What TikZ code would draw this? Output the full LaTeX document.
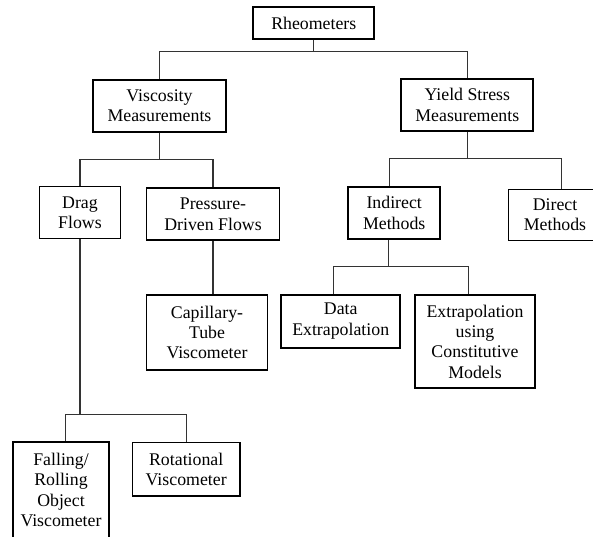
\documentclass[tikz,border=0pt]{standalone}
\usepackage{fontspec}
\setmainfont{Liberation Serif}
\definecolor{Linkcolor}{gray}{0.2}

\begin{document}
\begin{tikzpicture}[x=1pt,y=-1pt,
 box/.style={draw,line width=1.8pt,align=center,inner sep=0pt,
   font=\fontsize{17.8}{20.3}\selectfont},
 link/.style={line width=1.1pt,color=Linkcolor}]
\useasboundingbox (0,0) rectangle (593,536);

\node[box,minimum width=121,minimum height=32] (rheo) at (313.8,23.3) {Rheometers};
\node[box,minimum width=133,minimum height=52] (visc) at (159.5,105.8) {Viscosity\\Measurements};
\node[box,minimum width=132,minimum height=52] (yield) at (467.3,105) {Yield Stress\\Measurements};
\node[box,minimum width=81,minimum height=52] (drag) at (80,212.5) {Drag\\Flows};
\node[box,minimum width=133,minimum height=52] (press) at (213,214.3) {Pressure-\\Driven Flows};
\node[box,minimum width=92,minimum height=52.5] (indir) at (394.2,213) {Indirect\\Methods};
\node[box,minimum width=93,minimum height=51] (direct) at (555,215) {Direct\\Methods};
\node[box,minimum width=121,minimum height=75.5] (capil) at (207,332.5) {Capillary-\\Tube\\Viscometer};
\node[box,minimum width=119,minimum height=53] (data) at (340.7,321.2) {Data\\Extrapolation};
\node[box,minimum width=120,minimum height=93.5] (extrap) at (475,341.5) {Extrapolation\\using\\Constitutive\\Models};
\node[box,minimum width=96.5,minimum height=96] (fall) at (61,490) {Falling/\\Rolling\\Object\\Viscometer};
\node[box,minimum width=107.5,minimum height=53.5] (rot) at (186.2,469.2) {Rotational\\Viscometer};

\foreach \kid in {visc,yield}
\draw[link] (rheo.south) -- ++(0,11.7) -| (\kid.north);
\foreach \kid in {drag,press}
\draw[link] (visc.south) -- ++(0,27) -| (\kid.north);
\draw[link] (yield.south) -- ++(0,27) -| ([xshift=-5]indir.north);
\draw[link] (yield.south) -- ++(0,27) -| ([xshift=6.7]direct.north);
\draw[link] (press.south) -- (press.south |- capil.north);
\draw[link] ([xshift=-5.5]indir.south) -- ++(0,26.7) -| ([xshift=-7]data.north);
\draw[link] ([xshift=-5.5]indir.south) -- ++(0,26.7) -| ([xshift=-6.7]extrap.north);
\draw[link] (drag.south) -- ++(0,175.5) -| ([xshift=4.7]fall.north);
\draw[link] (drag.south) -- ++(0,175.5) -| (rot.north);
\end{tikzpicture}
\end{document}
